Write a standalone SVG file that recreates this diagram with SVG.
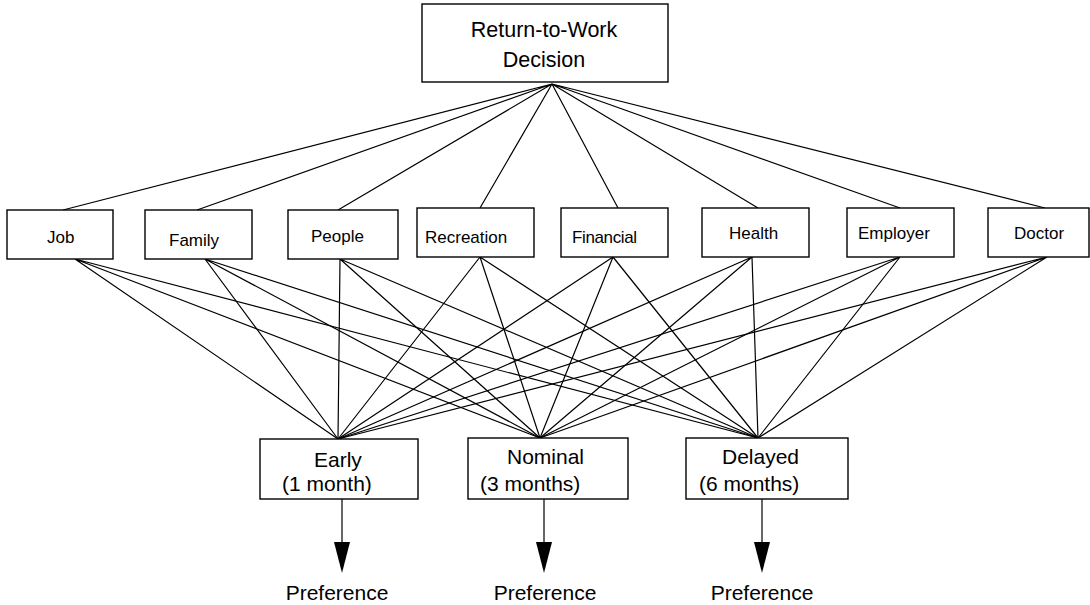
<svg xmlns="http://www.w3.org/2000/svg" width="1090" height="605" viewBox="0 0 1090 605">
<style>
.box{fill:#fff;stroke:#000;stroke-width:1.4}
.t{font-family:"Liberation Sans",Arial,sans-serif;fill:#000}
.big{font-size:21px}
.mid{font-size:17px}
.ln{stroke:#000;stroke-width:1.2;fill:none}
</style>
<defs>
<marker id="ah" markerWidth="16" markerHeight="32" refX="8" refY="31" orient="auto" markerUnits="userSpaceOnUse" viewBox="0 0 16 32">
<path d="M0,0 L16,0 L8,31 Z" fill="#000"/>
</marker>
</defs>
<rect width="1090" height="605" fill="#fff"/>
<g id="connectors">
<g class="ln">
<path d="M552,84 L63,210 M552,84 L197,210 M552,84 L338,210 M552,84 L480,208 M552,84 L618,208 M552,84 L758,208 M552,84 L900,208 M552,84 L1045,208"/>
<path d="M75,259 L338,439 M75,259 L540,438 M75,259 L758,438"/>
<path d="M205,259 L338,439 M205,259 L540,438 M205,259 L758,438"/>
<path d="M340,259 L338,439 M340,259 L540,438 M340,259 L758,438"/>
<path d="M480,257 L338,439 M480,257 L540,438 M480,257 L758,438"/>
<path d="M613,257 L338,439 M613,257 L540,438 M613,257 L758,438"/>
<path d="M752,257 L338,439 M752,257 L540,438 M752,257 L758,438"/>
<path d="M900,257 L338,439 M900,257 L540,438 M900,257 L758,438"/>
<path d="M1047,257 L338,439 M1047,257 L540,438 M1047,257 L758,438"/>
</g>
<line class="ln" x1="342" y1="499" x2="342" y2="542"/>
<path d="M334,542 L350,542 L342,573 Z" fill="#000"/>
<line class="ln" x1="544" y1="499" x2="544" y2="542"/>
<path d="M536,542 L552,542 L544,573 Z" fill="#000"/>
<line class="ln" x1="762" y1="499" x2="762" y2="542"/>
<path d="M754,542 L770,542 L762,573 Z" fill="#000"/>
</g>
<g id="decision">
<rect class="box" x="422" y="4" width="246" height="78"/>
<text class="t" x="544" y="37" font-size="21.5" text-anchor="middle">Return-to-Work</text>
<text class="t" x="544" y="67" font-size="21.5" text-anchor="middle">Decision</text>
</g>
<g id="job"><rect class="box" x="7" y="210" width="106" height="49"/><text class="t mid" x="47" y="243">Job</text></g>
<g id="family"><rect class="box" x="145" y="210" width="107" height="49"/><text class="t mid" x="169" y="246">Family</text></g>
<g id="people"><rect class="box" x="288" y="210" width="110" height="49"/><text class="t mid" x="311" y="242">People</text></g>
<g id="recreation"><rect class="box" x="417" y="208" width="117" height="49"/><text class="t mid" x="425" y="243">Recreation</text></g>
<g id="financial"><rect class="box" x="561" y="208" width="107" height="49"/><text class="t mid" x="572" y="243" textLength="65">Financial</text></g>
<g id="health"><rect class="box" x="702" y="208" width="107" height="49"/><text class="t mid" x="729" y="239">Health</text></g>
<g id="employer"><rect class="box" x="847" y="208" width="107" height="49"/><text class="t mid" x="858" y="239">Employer</text></g>
<g id="doctor"><rect class="box" x="988" y="208" width="101" height="49"/><text class="t mid" x="1014" y="239">Doctor</text></g>
<g id="early"><rect class="box" x="260" y="439" width="158" height="60"/><text class="t big" x="314" y="467">Early</text><text class="t big" x="282" y="491">(1 month)</text></g>
<g id="nominal"><rect class="box" x="468" y="438" width="160" height="61"/><text class="t big" x="507" y="464">Nominal</text><text class="t big" x="480" y="491">(3 months)</text></g>
<g id="delayed"><rect class="box" x="686" y="438" width="162" height="61"/><text class="t big" x="722" y="464">Delayed</text><text class="t big" x="699" y="491">(6 months)</text></g>
<g id="pref1"><text class="t big" x="337" y="600" text-anchor="middle">Preference</text></g>
<g id="pref2"><text class="t big" x="545" y="600" text-anchor="middle">Preference</text></g>
<g id="pref3"><text class="t big" x="762" y="600" text-anchor="middle">Preference</text></g>
</svg>
